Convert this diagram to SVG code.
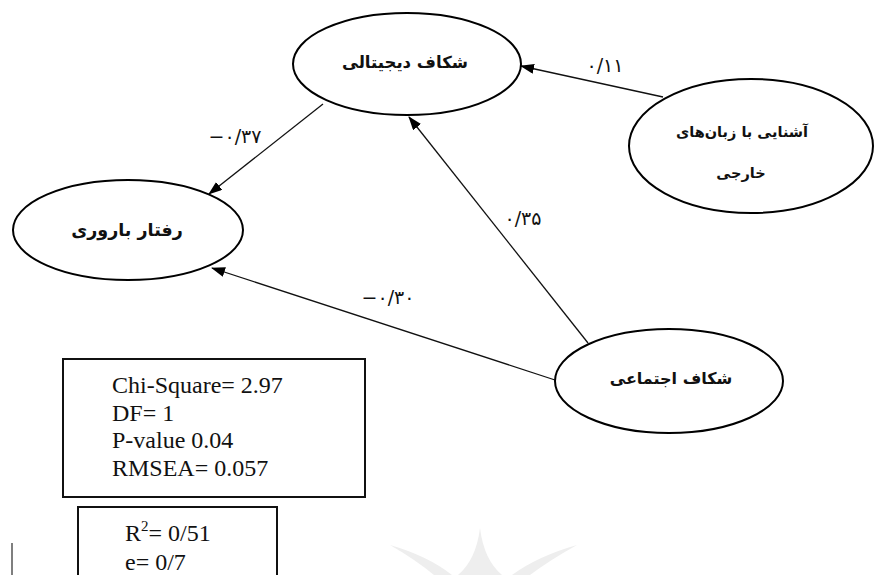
<svg xmlns="http://www.w3.org/2000/svg" width="875" height="575" viewBox="0 0 875 575">
<style>
.node ellipse{fill:#fff;stroke:#000;stroke-width:2}
.fa{font-family:"DejaVu Sans",sans-serif;font-weight:bold;fill:#111;text-anchor:middle}
.lbl{font-family:"DejaVu Sans",sans-serif;font-size:19px;fill:#111;text-anchor:middle}
.conn line{stroke:#111;stroke-width:1.3;fill:none}
.box rect{fill:#fff;stroke:#111;stroke-width:2}
.en{font-family:"Liberation Serif",serif;font-size:24px;fill:#111}
</style>
<defs>
<marker id="ah" markerWidth="14" markerHeight="10" refX="13" refY="5" orient="auto" markerUnits="userSpaceOnUse">
<path d="M0,0 L14,5 L0,10 z" fill="#000"/>
</marker>
</defs>
<rect width="875" height="575" fill="#fff"/>
<g id="watermark" fill="#eeeeee">
<path d="M480,528 Q484,560 502,575 L458,575 Q476,560 480,528 Z"/>
<path d="M390,545 Q428,556 452,575 L434,575 Q416,560 390,545 Z"/>
<path d="M577,545 Q538,556 512,575 L530,575 Q550,560 577,545 Z"/>
</g>
<g id="connectors" class="conn">
<line x1="663" y1="97" x2="521" y2="66" marker-end="url(#ah)"/>
<line x1="323" y1="104" x2="209" y2="194" marker-end="url(#ah)"/>
<line x1="588" y1="343" x2="409" y2="117" marker-end="url(#ah)"/>
<line x1="555" y1="380" x2="212" y2="268" marker-end="url(#ah)"/>
<text class="lbl" x="605" y="72">۰/۱۱</text>
<text class="lbl" x="235" y="143">−۰/۳۷</text>
<text class="lbl" x="523" y="225">۰/۳۵</text>
<text class="lbl" x="388" y="304">−۰/۳۰</text>
</g>
<g id="node-digital" class="node">
<ellipse cx="407" cy="64" rx="114" ry="51"/>
<text class="fa" x="405" y="68" font-size="16.5">شکاف دیجیتالی</text>
</g>
<g id="node-language" class="node">
<ellipse cx="751" cy="146" rx="122" ry="67"/>
<text class="fa" x="742" y="137" font-size="14.5">آشنایی با زبان‌های</text>
<text class="fa" x="741" y="178" font-size="14.5">خارجی</text>
</g>
<g id="node-fertility" class="node">
<ellipse cx="128" cy="230" rx="115" ry="50"/>
<text class="fa" x="127" y="236" font-size="17.5">رفتار باروری</text>
</g>
<g id="node-social" class="node">
<ellipse cx="669" cy="381" rx="114" ry="52"/>
<text class="fa" x="671" y="384" font-size="16">شکاف اجتماعی</text>
</g>
<g id="fit-box" class="box">
<rect x="63" y="359" width="302" height="138"/>
<text class="en" x="112" y="393">Chi-Square= 2.97</text>
<text class="en" x="112" y="421">DF= 1</text>
<text class="en" x="112" y="448">P-value 0.04</text>
<text class="en" x="112" y="476">RMSEA= 0.057</text>
</g>
<g id="r2-box" class="box">
<rect x="78" y="507" width="199" height="80"/>
<text class="en" x="125" y="541">R<tspan font-size="15" dy="-10">2</tspan><tspan dy="10">= 0/51</tspan></text>
<text class="en" x="125" y="570">e= 0/7</text>
</g>
<line x1="12" y1="543" x2="12" y2="575" stroke="#555" stroke-width="1.5"/>
</svg>
